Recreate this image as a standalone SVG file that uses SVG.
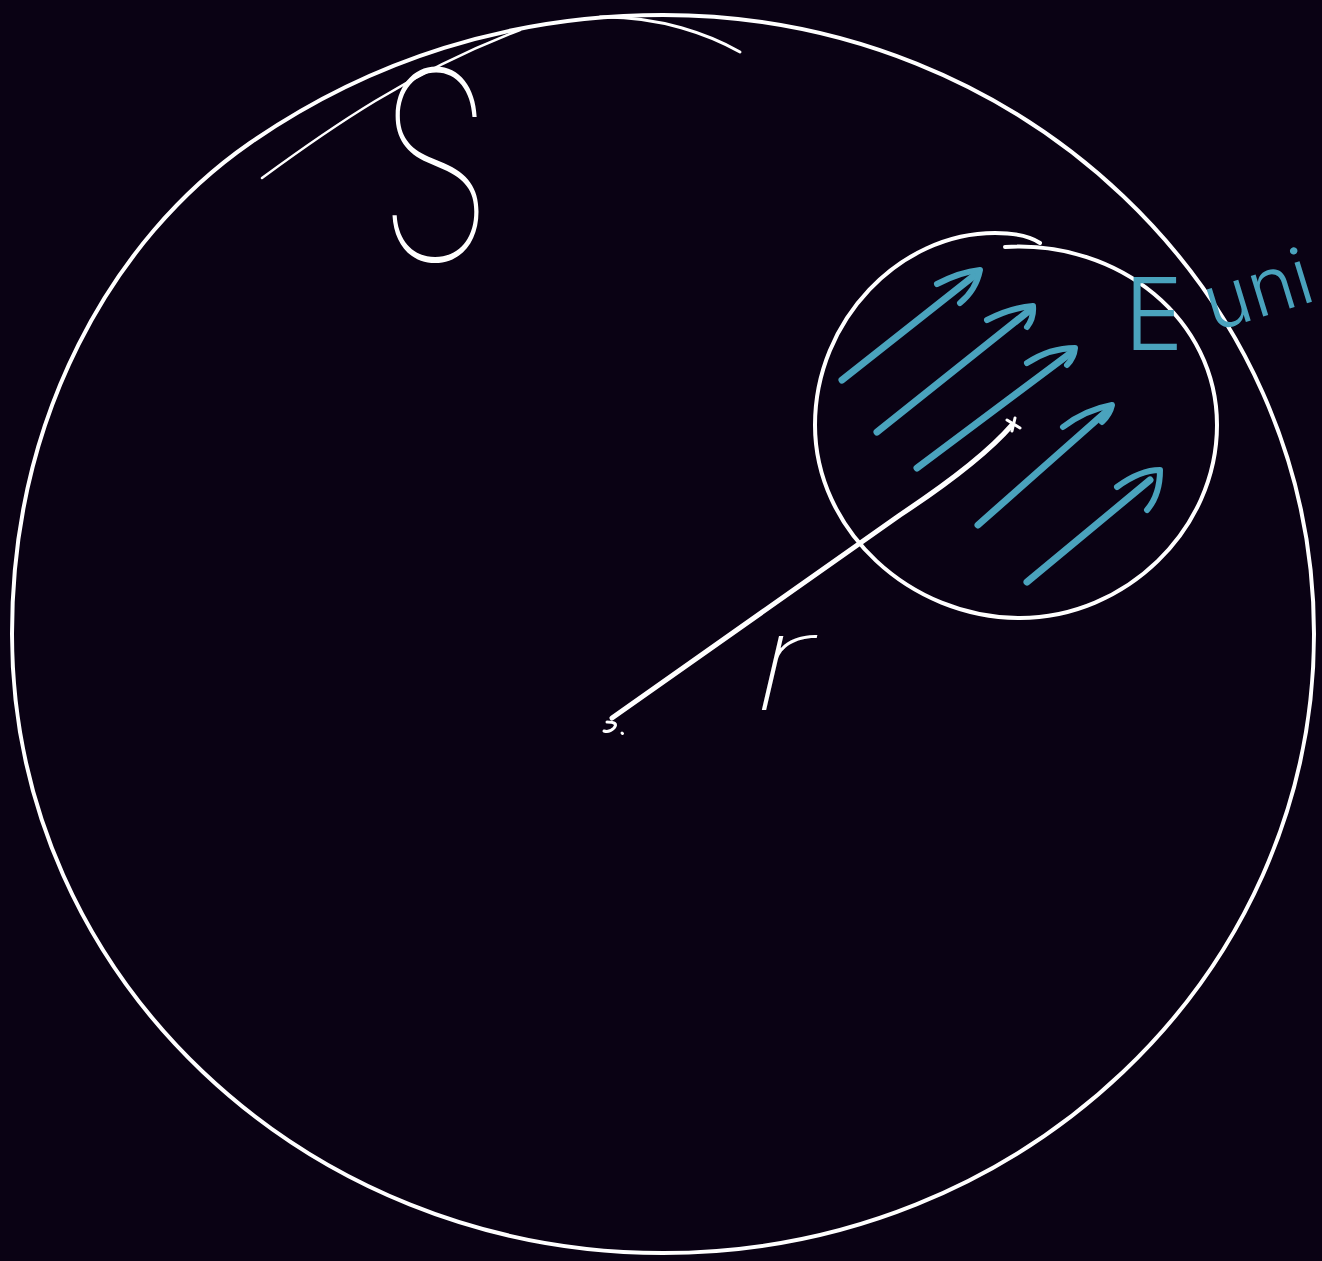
<svg xmlns="http://www.w3.org/2000/svg" width="1322" height="1261" viewBox="0 0 1322 1261">
<style>
.w{fill:none;stroke:#ffffff;stroke-linecap:round;stroke-linejoin:round}
.c{fill:none;stroke:#4aa3bd;stroke-linecap:round;stroke-linejoin:round}
.hw{font-family:Inter,"Liberation Sans",sans-serif;font-weight:100}
.hc{font-family:Inter,"Liberation Sans",sans-serif;font-weight:300;fill:#4aa3bd}
</style>
<rect width="1322" height="1261" fill="#0a0214"/>
<g id="outer-sphere">
<path class="w" stroke-width="4" d="M 663 15 C 1022.5 15, 1314 292, 1314 634 C 1314 976, 1022.5 1253, 663 1253 C 303.5 1253, 12 976, 12 634 C 12 420, 110 240, 250 143 C 370 60, 510 15, 663 15 Z"/>
<path class="w" stroke-width="3" d="M 600 17 C 660 16, 710 35, 740 52"/>
<path class="w" stroke-width="2.5" d="M 262 178 C 330 128, 410 72, 520 30"/>
</g>
<g id="label-S">
<text class="hw" x="378" y="260" font-size="262" textLength="115" lengthAdjust="spacingAndGlyphs" fill="#ffffff">S</text>
</g>
<g id="inner-sphere">
<path class="w" stroke-width="4" d="M 1005 247 C 1120 240, 1217 320, 1217 425 C 1217 530, 1125 618, 1020 618 C 910 618, 815 530, 815 425 C 815 320, 900 233, 995 233 C 1015 233, 1030 236, 1040 243"/>
</g>
<g id="field-arrows">
<path class="c" stroke-width="7" d="M 842 380 L 975 275"/>
<path class="c" stroke-width="6" d="M 937 284 Q 960 272 980 270 Q 976 290 960 303"/>
<path class="c" stroke-width="7" d="M 877 432 L 1030 310"/>
<path class="c" stroke-width="6" d="M 987 320 Q 1010 308 1033 306 Q 1034 318 1027 327"/>
<path class="c" stroke-width="7" d="M 917 468 L 1072 352"/>
<path class="c" stroke-width="6" d="M 1027 363 Q 1050 348 1075 348 Q 1074 358 1067 365"/>
<path class="c" stroke-width="7" d="M 978 525 L 1108 410"/>
<path class="c" stroke-width="6" d="M 1063 427 Q 1085 410 1112 405 Q 1110 414 1102 422"/>
<path class="c" stroke-width="7" d="M 1027 582 L 1150 480"/>
<path class="c" stroke-width="6" d="M 1117 487 Q 1140 470 1160 470 Q 1160 495 1147 510"/>
</g>
<g id="radius">
<path class="w" stroke-width="5" d="M 612 718 L 900 515 Q 980 462 1012 425"/>
<path class="w" stroke-width="3" d="M 1007 420 L 1020 428 M 1015 418 L 1012 431"/>
<path class="w" stroke-width="3" d="M 607 722 Q 619 722 614 728 Q 609 733 604 731 M 622 733 L 622.5 733.5"/>
</g>
<g id="label-r">
<text class="hw" x="752" y="710" font-size="135" font-style="italic" textLength="62" lengthAdjust="spacingAndGlyphs" fill="#ffffff">r</text>
</g>
<g id="label-E">
<text class="hc" x="1124" y="350" font-size="100">E</text>
<text class="hc" x="0" y="0" font-size="78" transform="translate(1213 332) rotate(-17)">uni</text>
</g>
</svg>
